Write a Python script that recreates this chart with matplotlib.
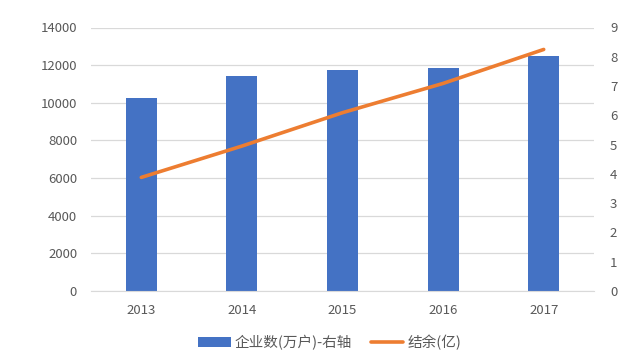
import matplotlib
matplotlib.use("Agg")
import matplotlib.pyplot as plt
from matplotlib.ticker import MultipleLocator

plt.rcParams['font.family'] = ['Noto Sans CJK SC', 'DejaVu Sans']

years = ['2013', '2014', '2015', '2016', '2017']
companies = [10250, 11420, 11740, 11845, 12484]
surplus = [3.88, 4.95, 6.09, 7.09, 8.25]

bar_label = '企业数(万户)-右轴'
line_label = '结余(亿)'

fig = plt.figure(figsize=(6.41, 3.56), dpi=100)
ax = fig.add_axes([91/641, 1 - 291/356, (594-91)/641, (291-27.5)/356])
ax2 = ax.twinx()

x = range(len(years))
ax.bar(x, companies, width=0.31, color='#4472C4', label=bar_label, zorder=2)
ax2.plot(x, surplus, color='#ED7D31', lw=2.6, solid_capstyle='round', label=line_label, zorder=3)

ax.set_xlim(-0.5, len(years) - 0.5)
ax.set_ylim(0, 14000)
ax2.set_ylim(0, 9)
ax.yaxis.set_major_locator(MultipleLocator(2000))
ax2.yaxis.set_major_locator(MultipleLocator(1))
ax.set_xticks(list(x))
ax.set_xticklabels(years)

ax.grid(axis='y', color='#D9D9D9', lw=0.9, zorder=0)
ax.set_axisbelow(True)
for a in (ax, ax2):
    for s in a.spines.values():
        s.set_visible(False)
    a.tick_params(length=0, colors='#595959', labelsize=9.5)
ax.spines['bottom'].set_visible(True)
ax.spines['bottom'].set_color('#D9D9D9')
ax.tick_params(axis='x', pad=9)
ax.tick_params(axis='y', pad=10)
ax2.tick_params(axis='y', pad=11.5)

h1, l1 = ax.get_legend_handles_labels()
h2, l2 = ax2.get_legend_handles_labels()
fig.legend(h1 + h2, l1 + l2, loc='center', bbox_to_anchor=(330/641, 1 - 342/356),
           ncol=2, frameon=False, fontsize=10.5, labelcolor='#595959',
           handlelength=2.2, columnspacing=1.3, handletextpad=0.3)

fig.savefig('out.png', dpi=100)
